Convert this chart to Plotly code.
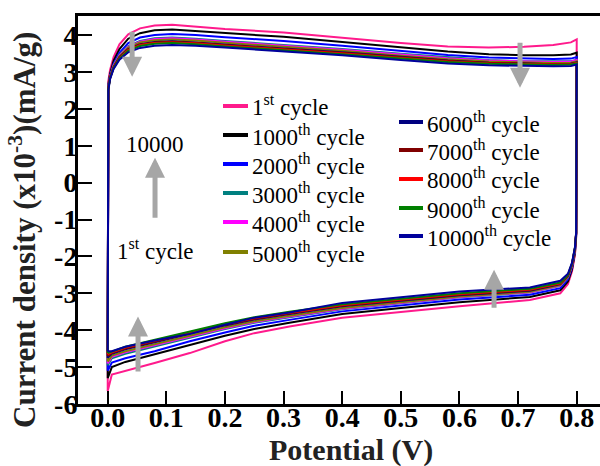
import plotly.graph_objects as go

# ---------------- data ----------------
potential_fwd = [0.0, 0.001, 0.004, 0.01, 0.02, 0.035, 0.055, 0.08, 0.11, 0.15,
                 0.2, 0.3, 0.4, 0.5, 0.58, 0.65, 0.71, 0.76, 0.79, 0.8]
potential_rev = [0.799, 0.797, 0.792, 0.785, 0.772, 0.72, 0.6, 0.5, 0.4, 0.31,
                 0.25, 0.2, 0.14, 0.08, 0.03, 0.007, 0.0]

cycle_names = ["1<sup>st</sup> cycle", "1000<sup>th</sup> cycle", "2000<sup>th</sup> cycle",
               "3000<sup>th</sup> cycle", "4000<sup>th</sup> cycle", "5000<sup>th</sup> cycle",
               "6000<sup>th</sup> cycle", "7000<sup>th</sup> cycle", "8000<sup>th</sup> cycle",
               "9000<sup>th</sup> cycle", "10000<sup>th</sup> cycle"]

i_fwd_1 = [-5.65, 2.75, 3.05, 3.4, 3.75, 4.02, 4.18, 4.26, 4.28, 4.23, 4.16, 4.07, 3.93, 3.78, 3.69, 3.66, 3.68, 3.73, 3.8, 3.88]
i_rev_1 = [-1.5, -1.95, -2.4, -2.75, -3.0, -3.18, -3.35, -3.5, -3.66, -3.9, -4.08, -4.3, -4.62, -4.89, -5.1, -5.2, -5.65]

i_fwd_1000 = [-5.3, 2.65, 2.95, 3.3, 3.62, 3.9, 4.05, 4.13, 4.15, 4.11, 4.05, 3.95, 3.81, 3.66, 3.55, 3.48, 3.45, 3.45, 3.47, 3.52]
i_rev_1000 = [-1.45, -1.9, -2.35, -2.68, -2.92, -3.1, -3.24, -3.4, -3.56, -3.8, -3.97, -4.15, -4.4, -4.66, -4.86, -5.0, -5.3]

i_fwd_2000 = [-5.1, 2.6, 2.9, 3.22, 3.52, 3.78, 3.93, 4.0, 4.03, 4.0, 3.94, 3.84, 3.71, 3.57, 3.46, 3.39, 3.36, 3.35, 3.36, 3.4]
i_rev_2000 = [-1.42, -1.85, -2.3, -2.62, -2.86, -3.04, -3.17, -3.33, -3.49, -3.72, -3.88, -4.06, -4.3, -4.57, -4.76, -4.88, -5.1]

i_fwd_3000 = [-4.95, 2.58, 2.88, 3.18, 3.46, 3.7, 3.84, 3.91, 3.93, 3.9, 3.84, 3.74, 3.62, 3.49, 3.39, 3.32, 3.29, 3.28, 3.29, 3.33]
i_rev_3000 = [-1.4, -1.82, -2.26, -2.57, -2.8, -2.98, -3.11, -3.27, -3.43, -3.65, -3.8, -3.97, -4.2, -4.45, -4.64, -4.76, -4.95]

i_fwd_4000 = [-4.9, 2.58, 2.87, 3.17, 3.45, 3.68, 3.82, 3.89, 3.91, 3.88, 3.82, 3.72, 3.6, 3.47, 3.37, 3.31, 3.28, 3.27, 3.28, 3.32]
i_rev_4000 = [-1.4, -1.81, -2.25, -2.56, -2.79, -2.97, -3.1, -3.26, -3.42, -3.63, -3.78, -3.95, -4.18, -4.42, -4.6, -4.72, -4.9]

i_fwd_5000 = [-4.85, 2.56, 2.86, 3.15, 3.43, 3.66, 3.8, 3.86, 3.88, 3.85, 3.79, 3.69, 3.57, 3.44, 3.34, 3.28, 3.25, 3.24, 3.25, 3.29]
i_rev_5000 = [-1.39, -1.8, -2.24, -2.55, -2.78, -2.96, -3.09, -3.24, -3.4, -3.61, -3.76, -3.92, -4.15, -4.39, -4.57, -4.69, -4.85]

i_fwd_6000 = [-4.75, 2.55, 2.85, 3.13, 3.4, 3.62, 3.75, 3.81, 3.83, 3.8, 3.74, 3.64, 3.53, 3.41, 3.31, 3.25, 3.22, 3.21, 3.22, 3.26]
i_rev_6000 = [-1.38, -1.79, -2.22, -2.53, -2.75, -2.93, -3.05, -3.2, -3.35, -3.56, -3.71, -3.87, -4.09, -4.33, -4.52, -4.64, -4.75]

i_fwd_7000 = [-4.7, 2.55, 2.84, 3.12, 3.39, 3.61, 3.74, 3.8, 3.82, 3.79, 3.73, 3.63, 3.52, 3.4, 3.3, 3.25, 3.22, 3.21, 3.22, 3.25]
i_rev_7000 = [-1.38, -1.78, -2.21, -2.52, -2.74, -2.92, -3.04, -3.19, -3.34, -3.55, -3.7, -3.86, -4.08, -4.32, -4.5, -4.62, -4.7]

i_fwd_8000 = [-4.65, 2.54, 2.83, 3.11, 3.37, 3.59, 3.72, 3.78, 3.8, 3.77, 3.71, 3.61, 3.5, 3.38, 3.28, 3.23, 3.21, 3.2, 3.21, 3.24]
i_rev_8000 = [-1.37, -1.77, -2.2, -2.51, -2.73, -2.9, -3.02, -3.17, -3.32, -3.53, -3.67, -3.83, -4.05, -4.29, -4.47, -4.6, -4.65]

i_fwd_9000 = [-4.62, 2.53, 2.82, 3.1, 3.36, 3.57, 3.7, 3.76, 3.78, 3.75, 3.69, 3.59, 3.48, 3.36, 3.27, 3.22, 3.2, 3.19, 3.2, 3.23]
i_rev_9000 = [-1.36, -1.76, -2.19, -2.5, -2.71, -2.88, -3.0, -3.15, -3.3, -3.5, -3.65, -3.81, -4.03, -4.27, -4.45, -4.58, -4.62]

i_fwd_10000 = [-4.57, 2.5, 2.8, 3.08, 3.33, 3.53, 3.65, 3.71, 3.73, 3.71, 3.66, 3.56, 3.45, 3.32, 3.23, 3.18, 3.16, 3.15, 3.16, 3.2]
i_rev_10000 = [-1.35, -1.75, -2.17, -2.47, -2.66, -2.84, -2.95, -3.1, -3.26, -3.52, -3.66, -3.85, -4.1, -4.28, -4.45, -4.57, -4.57]

fwd_sets = [i_fwd_1, i_fwd_1000, i_fwd_2000, i_fwd_3000, i_fwd_4000, i_fwd_5000,
            i_fwd_6000, i_fwd_7000, i_fwd_8000, i_fwd_9000, i_fwd_10000]
rev_sets = [i_rev_1, i_rev_1000, i_rev_2000, i_rev_3000, i_rev_4000, i_rev_5000,
            i_rev_6000, i_rev_7000, i_rev_8000, i_rev_9000, i_rev_10000]

x_ticks = [0.0, 0.1, 0.2, 0.3, 0.4, 0.5, 0.6, 0.7, 0.8]
y_ticks = [-6, -5, -4, -3, -2, -1, 0, 1, 2, 3, 4]
y_ticklabels = ["-6", "-5", "-4", "-3", "-2", "-1", "0", "1", "2", "3", "4"]

# ---------------- styling ----------------
colors = ["#FF1A8C", "#000000", "#0000FF", "#008080", "#FF00FF", "#808000",
          "#000080", "#800000", "#FF0000", "#008000", "#00009C"]
SERIF = "Liberation Serif, Times New Roman, serif"
W, H = 600, 466
L, R, T, B = 78, 0, 16, 62
PW, PH = W - L - R, H - T - B


def px_to_paper_x(px):
    return (px - L) / PW


def py_to_paper_y(py):
    return (H - B - py) / PH


fig = go.Figure()
for name, col, f, r in zip(cycle_names, colors, fwd_sets, rev_sets):
    fig.add_trace(go.Scatter(
        x=potential_fwd + potential_rev, y=f + r, mode="lines", name=name,
        line=dict(color=col, width=2), showlegend=False))

# ---- manual two-column legend ----
leg_col1 = dict(x0=223, x1=248, tx=250, ys=[106, 135, 164, 193, 222, 252])
leg_col2 = dict(x0=399, x1=423, tx=425, ys=[122, 150, 179, 208, 236])
slots = [(leg_col1, y) for y in leg_col1["ys"]] + [(leg_col2, y) for y in leg_col2["ys"]]
for (col_def, yy), name, col in zip(slots, cycle_names, colors):
    fig.add_shape(type="line", xref="paper", yref="paper",
                  x0=px_to_paper_x(col_def["x0"]), x1=px_to_paper_x(col_def["x1"]),
                  y0=py_to_paper_y(yy), y1=py_to_paper_y(yy),
                  line=dict(color=col, width=4))
    fig.add_annotation(xref="paper", yref="paper", x=px_to_paper_x(col_def["tx"]),
                       y=py_to_paper_y(yy), text=name, showarrow=False,
                       xanchor="left", yanchor="middle",
                       font=dict(family=SERIF, size=23, color="black"))

# ---- arrows ----
arrow_color = "#a6a6a6"
arrows = [  # tip x (V), tip y, tail offset in px
    (0.0416, 2.87, -55),
    (0.7033, 2.57, -55),
    (0.0807, 0.675, 70),
    (0.0517, -3.63, 65),
    (0.659, -2.36, 48),
]
for ax_x, ax_y, off in arrows:
    fig.add_annotation(x=ax_x, y=ax_y, xref="x", yref="y", ax=0, ay=off,
                       showarrow=True, arrowhead=2, arrowsize=0.8, arrowwidth=5,
                       arrowcolor=arrow_color, text=" ", standoff=0)

fig.add_annotation(x=0.0807, y=1.02, xref="x", yref="y", text="10000", showarrow=False,
                   font=dict(family=SERIF, size=23, color="black"))
fig.add_annotation(x=0.0807, y=-1.8, xref="x", yref="y", text="1<sup>st</sup> cycle",
                   showarrow=False, font=dict(family=SERIF, size=23, color="black"))

# ---- axis titles ----
fig.add_annotation(xref="paper", yref="paper", x=px_to_paper_x(351), y=py_to_paper_y(450),
                   text="Potential (V)", showarrow=False, xanchor="center", yanchor="middle",
                   font=dict(family=SERIF, size=30, color="#222222", weight="bold"))
fig.add_annotation(xref="paper", yref="paper", x=px_to_paper_x(22), y=py_to_paper_y(230),
                   text="Current density (x10<sup>-3</sup>)(mA/g)", showarrow=False,
                   textangle=-90, xanchor="center", yanchor="middle",
                   font=dict(family=SERIF, size=31, color="#222222", weight="bold"))

tickfont = dict(family=SERIF, size=28, color="black", weight="bold")
fig.update_xaxes(range=[-0.0507, -0.0507 + PW / 586.25], tickvals=x_ticks, tickformat=".1f",
                 showline=True, linewidth=3, linecolor="black", mirror=True,
                 ticks="inside", ticklen=13, tickwidth=2, tickcolor="black",
                 ticklabelstandoff=-14,
                 showgrid=False, zeroline=False, tickfont=tickfont)
fig.update_yaxes(range=[-6, -6 + PH / 36.9], tickvals=y_ticks, ticktext=y_ticklabels,
                 showline=True, linewidth=3, linecolor="black", mirror=False,
                 ticks="inside", ticklen=14, tickwidth=2, tickcolor="black",
                 ticklabelstandoff=-8,
                 showgrid=False, zeroline=False, tickfont=tickfont)
fig.update_layout(width=W, height=H, margin=dict(l=L, r=R, t=T, b=B),
                  plot_bgcolor="white", paper_bgcolor="white", showlegend=False)

fig.write_html("out.html")
